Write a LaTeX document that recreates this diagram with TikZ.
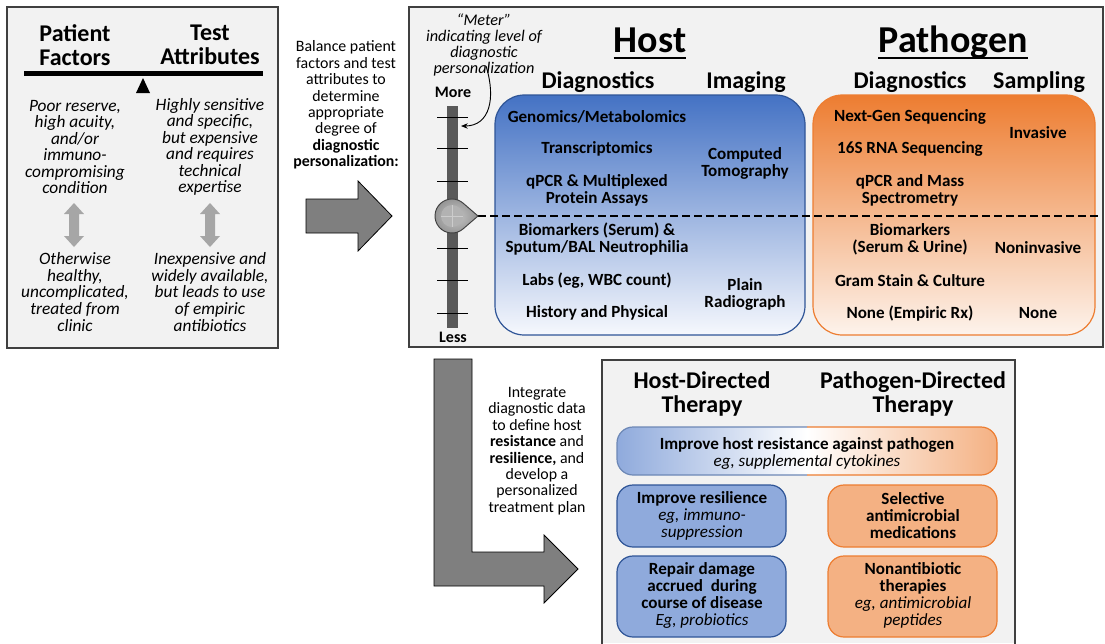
\documentclass[tikz,border=0pt]{standalone}
\usepackage{fontspec}
\setmainfont{Carlito}
\usetikzlibrary{arrows.meta}
\definecolor{panel}{HTML}{F2F2F2}
\definecolor{panelline}{HTML}{404040}
\definecolor{hblue}{HTML}{4472C4}
\definecolor{hbluelight}{HTML}{F6F8FD}
\definecolor{hblueline}{HTML}{2F5597}
\definecolor{porange}{HTML}{ED7D31}
\definecolor{porangelight}{HTML}{FDF3EC}
\definecolor{sblue}{HTML}{8FAADC}
\definecolor{sorange}{HTML}{F4B183}
\definecolor{arrowgray}{HTML}{7F7F7F}
\definecolor{dblgray}{HTML}{A6A6A6}
\definecolor{bargray}{HTML}{595959}
\begin{document}
\begin{tikzpicture}[x=0.75pt,y=-0.75pt,
  panelbox/.style={fill=panel,draw=panelline,line width=0.9pt},
  txt/.style={inner sep=0pt,align=center},
  titletxt/.style={txt,font=\fontsize{18}{18}\selectfont\bfseries},
  hugetxt/.style={txt,font=\fontsize{28.5}{30}\selectfont\bfseries},
  bodyit/.style={txt,font=\fontsize{13}{12.4}\selectfont\itshape},
  baltxt/.style={txt,font=\fontsize{11.9}{12.3}\selectfont},
  metertxt/.style={txt,font=\fontsize{12.2}{12.2}\selectfont\itshape},
  boxtxt/.style={txt,font=\fontsize{12.8}{12.75}\selectfont\bfseries},
  bigarrow/.style={fill=arrowgray,draw=black,line width=0.6pt},
  tick/.style={line width=0.7pt,black},
  dbl/.pic={\fill[dblgray] (0,-22) -- (-10,-11) -- (-5,-11) -- (-5,11) -- (-10,11) -- (0,22) -- (10,11) -- (5,11) -- (5,-11) -- (10,-11) -- cycle;}
]
\useasboundingbox (0,0) rectangle (1105,643);
\fill[white] (0,0) rectangle (1105,643);

% ---------- left panel ----------
\draw[panelbox] (7,7) rectangle (278,348);
\node[titletxt] (pf) at (75,45) {Patient\\Factors};
\node[titletxt] (ta) at (210,45) {Test\\Attributes};
\draw[line width=3.75pt] (24,73) -- (263,73);
\fill (136,93) -- (150,93) -- (143,78) -- cycle;
\node[bodyit] (poor) at (75,147) {Poor reserve,\\high acuity,\\and/or\\immuno-\\compromising\\condition};
\node[bodyit] (high) at (210,147) {Highly sensitive\\and specific,\\but expensive\\and requires\\technical\\expertise};
\pic at (74,225) {dbl};
\pic at (210,225) {dbl};
\node[bodyit] (other) at (75,292) {Otherwise\\healthy,\\uncomplicated,\\treated from\\clinic};
\node[bodyit] (inexp) at (210,292) {Inexpensive and\\widely available,\\but leads to use\\of empiric\\antibiotics};

% ---------- balance text and arrow ----------
\node[baltxt] (bal) at (346,105) {Balance patient\\factors and test\\attributes to\\determine\\appropriate\\degree of\\\textbf{diagnostic}\\\textbf{personalization:}};
\draw[bigarrow] (306,199) -- (358,199) -- (358,181) -- (392,216) -- (358,251) -- (358,233) -- (306,233) -- cycle;

% ---------- main panel ----------
\draw[panelbox] (409,7) rectangle (1103,347);
\fill[bargray] (447,106) rectangle (458,328);
\foreach \ty in {117,148,181,214,248,280,313} \draw[tick] (437,\ty) -- (468,\ty);
\node[txt,font=\fontsize{12}{12}\selectfont\bfseries] (more) at (453,92) {More};
\node[txt,font=\fontsize{12}{12}\selectfont\bfseries] (less) at (453,337) {Less};
\node[metertxt] (meter) at (484,45) {``Meter''\\indicating level of\\diagnostic\\personalization};
\coordinate (mstart) at (486,66);
\coordinate (mend) at (461,126);
\draw[-{Stealth[length=5pt,width=4pt]},line width=0.7pt] (mstart) .. controls (496,98) and (490,126) .. (mend);

\node[hugetxt,anchor=base] (host) at (650,52) {Host};
\draw[line width=2pt] ([yshift=-4.5pt]host.base west) -- ([yshift=-4.5pt]host.base east);
\node[hugetxt,anchor=base] (pathogen) at (953,52) {Pathogen};
\draw[line width=2pt] ([yshift=-4.5pt]pathogen.base west) -- ([yshift=-4.5pt]pathogen.base east);

\node[titletxt,anchor=base] (hdiag) at (598,88) {Diagnostics};
\node[titletxt,anchor=base] (himg) at (746,88) {Imaging};
\node[titletxt,anchor=base] (pdiag) at (910,88) {Diagnostics};
\node[titletxt,anchor=base] (psamp) at (1039,88) {Sampling};

\draw[draw=hblueline,line width=0.9pt,rounded corners=22pt,top color=hblue,bottom color=hbluelight] (495,95) rectangle (805,335);
\draw[draw=porange,line width=0.9pt,rounded corners=22pt,top color=porange,bottom color=porangelight] (813,95) rectangle (1095,335);

% knob and dashed line
\coordinate (knobc) at (452,216);
\coordinate (knobtip) at (478,216);
\coordinate (dashend) at (1101,216);
\draw[dash pattern=on 6pt off 3pt,line width=1.4pt] (knobtip) -- (dashend);
\path[inner color=gray!45,outer color=gray!85,draw=black!75,line width=0.7pt] (knobtip) -- (452+11.15,216+12.83) arc[start angle=49,end angle=311,radius=17] -- cycle;
\fill[gray!60] (knobc) circle[radius=11];
\draw[gray!40,line width=0.5pt] (441,216) -- (463,216) (452,205) -- (452,227);

% host text
\node[boxtxt] (genom) at (597,117) {Genomics/Metabolomics};
\node[boxtxt] (trans) at (597,149) {Transcriptomics};
\node[boxtxt] (qpcr) at (597,190.5) {qPCR \& Multiplexed\\Protein Assays};
\node[boxtxt] (biom) at (597,239.5) {Biomarkers (Serum) \&\\Sputum/BAL Neutrophilia};
\node[boxtxt] (labs) at (597,281) {Labs (eg, WBC count)};
\node[boxtxt] (hist) at (597,313) {History and Physical};
\node[boxtxt] (ct) at (745,163.5) {Computed\\Tomography};
\node[boxtxt] (plain) at (745,294.5) {Plain\\Radiograph};

% pathogen text
\node[boxtxt] (ngs) at (910,117) {Next-Gen Sequencing};
\node[boxtxt] (s16) at (910,149) {16S RNA Sequencing};
\node[boxtxt] (qms) at (910,190.5) {qPCR and Mass\\Spectrometry};
\node[boxtxt] (pbio) at (910,239.5) {Biomarkers\\(Serum \& Urine)};
\node[boxtxt] (gram) at (910,281) {Gram Stain \& Culture};
\node[boxtxt] (none) at (910,313) {None (Empiric Rx)};
\node[boxtxt] (inv) at (1038,133) {Invasive};
\node[boxtxt] (noninv) at (1038,248) {Noninvasive};
\node[boxtxt] (snone) at (1038,313) {None};

% ---------- L arrow ----------
\draw[bigarrow] (434,359) -- (472,359) -- (472,552) -- (544,552) -- (544,535) -- (578,569) -- (544,603) -- (544,586) -- (434,586) -- cycle;
\node[baltxt] (integ) at (537,451) {Integrate\\diagnostic data\\to define host\\\textbf{resistance} and\\\textbf{resilience,} and\\develop a\\personalized\\treatment plan};

% ---------- therapy panel ----------
\fill[panel] (602,360) rectangle (1015,643);
\draw[panelline,line width=0.9pt] (602,645) -- (602,360) -- (1015,360) -- (1015,645);
\node[titletxt] (hdt) at (702,394) {Host-Directed\\Therapy};
\node[titletxt] (pdt) at (913,394) {Pathogen-Directed\\Therapy};

\path[rounded corners=12pt,left color=sblue,right color=sorange,middle color=white] (617,427) rectangle (997,475);
\begin{scope}
\clip (600,420) rectangle (807,480);
\draw[hblueline!70,line width=0.9pt,rounded corners=12pt] (617,427) rectangle (997,475);
\end{scope}
\begin{scope}
\clip (807,420) rectangle (1000,480);
\draw[porange,line width=0.9pt,rounded corners=12pt] (617,427) rectangle (997,475);
\end{scope}
\node[boxtxt] (impres) at (807,453.5) {Improve host resistance against pathogen\\\normalfont\itshape eg, supplemental cytokines};

\draw[fill=sblue,draw=hblueline,line width=0.9pt,rounded corners=12pt] (617,485) rectangle (786,547);
\draw[fill=sblue,draw=hblueline,line width=0.9pt,rounded corners=12pt] (617,556) rectangle (786,637);
\draw[fill=sorange,draw=porange,line width=0.9pt,rounded corners=12pt] (828,485) rectangle (997,547);
\draw[fill=sorange,draw=porange,line width=0.9pt,rounded corners=12pt] (828,556) rectangle (997,637);

\node[boxtxt] (resil) at (702,515.5) {Improve resilience\\\normalfont\itshape eg, immuno-\\\normalfont\itshape suppression};
\node[boxtxt] (repair) at (702,595) {Repair damage\\accrued\ \ during\\course of disease\\\normalfont\itshape Eg, probiotics};
\node[boxtxt] (selec) at (913,515.5) {Selective\\antimicrobial\\medications};
\node[boxtxt] (nonab) at (913,595) {Nonantibiotic\\therapies\\\normalfont\itshape eg, antimicrobial\\\normalfont\itshape peptides};
\end{tikzpicture}
\end{document}
